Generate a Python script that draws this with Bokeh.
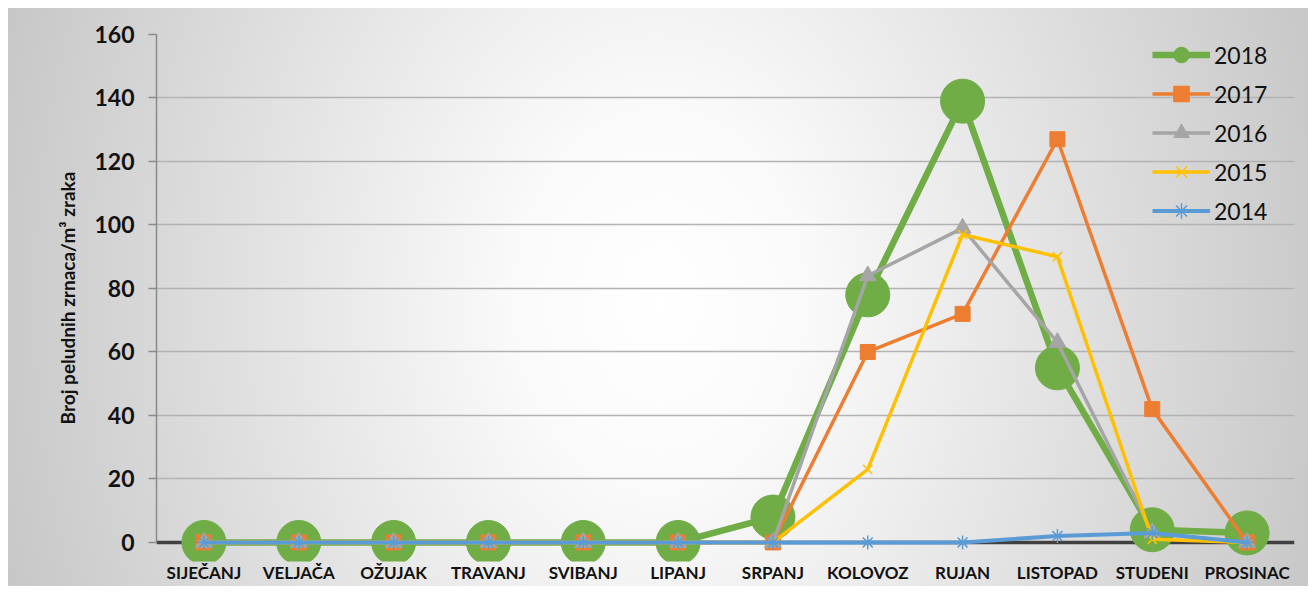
from bokeh.plotting import figure
from bokeh.models import (Range1d, FactorRange, Legend, LegendItem, Span,
                          FixedTicker)
from bokeh.embed import file_html
from bokeh.resources import INLINE

# ---- data ----
months = ["SIJEČANJ", "VELJAČA", "OŽUJAK", "TRAVANJ", "SVIBANJ", "LIPANJ",
          "SRPANJ", "KOLOVOZ", "RUJAN", "LISTOPAD", "STUDENI", "PROSINAC"]
y2018 = [0, 0, 0, 0, 0, 0, 8, 78, 139, 55, 4, 3]
y2017 = [0, 0, 0, 0, 0, 0, 0, 60, 72, 127, 42, 0]
y2016 = [0, 0, 0, 0, 0, 0, 0, 84, 99, 63, 3, 0]
y2015 = [0, 0, 0, 0, 0, 0, 0, 23, 97, 90, 1, 0]
y2014 = [0, 0, 0, 0, 0, 0, 0, 0, 0, 2, 3, 0]
years = ["2018", "2017", "2016", "2015", "2014"]
y_ticks = [0, 20, 40, 60, 80, 100, 120, 140, 160]

FONT = "Lato"
Y0, Y1 = -6, 160
FL, FT, FR, FB = 156, 34, 1294, 561   # intended frame edges (px)
FW, FH = 1308, 586

p = figure(width=FW, height=FH, x_range=FactorRange(*months, range_padding=0),
           y_range=Range1d(Y0, Y1), output_backend="svg", toolbar_location=None,
           min_border_left=FL, min_border_right=FW - FR, min_border_top=FT,
           min_border_bottom=FH - FB)
p.border_fill_color = None
p.background_fill_color = None
p.outline_line_color = None
p.styles = {
    "background": "radial-gradient(720px 950px at 652px 292px, #ffffff 0%, "
                  "#fafafa 20%, #c4c4c4 100%) 8px 8px / 1300px 578px no-repeat, "
                  "#ffffff",
}

# grid
p.xgrid.visible = False
p.ygrid.ticker = FixedTicker(ticks=y_ticks)
p.ygrid.grid_line_color = "#b2b2b2"
p.ygrid.grid_line_width = 1.5

# x axis line at zero
p.add_layout(Span(location=0, dimension="width", line_color="#404040",
                  line_width=3.5, level="underlay"))

# axes
p.yaxis.ticker = FixedTicker(ticks=y_ticks)
p.yaxis.bounds = (0, 160)
p.yaxis.axis_line_color = "#8a8a8a"
p.yaxis.axis_line_width = 1.5
p.yaxis.major_tick_line_color = "#8a8a8a"
p.yaxis.major_tick_line_width = 1.5
p.yaxis.major_tick_in = 0
p.yaxis.major_tick_out = 8
p.yaxis.minor_tick_line_color = None
p.yaxis.major_label_text_font = FONT
p.yaxis.major_label_text_font_style = "bold"
p.yaxis.major_label_text_font_size = "23px"
p.yaxis.major_label_text_color = "#111111"
p.yaxis.major_label_standoff = 14
p.yaxis.axis_label = "Broj peludnih zrnaca/m³ zraka"
p.yaxis.axis_label_text_font = FONT
p.yaxis.axis_label_text_font_style = "bold"
p.yaxis.axis_label_text_font_size = "19px"
p.yaxis.axis_label_text_color = "#111111"
p.yaxis.axis_label_standoff = 12

p.xaxis.axis_line_color = None
p.xaxis.major_tick_line_color = None
p.xaxis.minor_tick_line_color = None
p.xaxis.major_tick_out = 0
p.xaxis.major_tick_in = 0
p.xaxis.major_label_text_font = FONT
p.xaxis.major_label_text_font_style = "bold"
p.xaxis.major_label_text_font_size = "17px"
p.xaxis.major_label_text_color = "#111111"
p.xaxis.major_label_standoff = 0

# series
items = []
l = p.line(months, y2018, line_color="#70AD47", line_width=6.5)
s = p.scatter(months, y2018, marker="circle", size=44, fill_color="#70AD47",
              line_color="#70AD47")
items.append(LegendItem(label=years[0], renderers=[l, s]))

l = p.line(months, y2017, line_color="#ED7D31", line_width=3.5)
s = p.scatter(months, y2017, marker="square", size=15, fill_color="#ED7D31",
              line_color="#ED7D31")
items.append(LegendItem(label=years[1], renderers=[l, s]))

l = p.line(months, y2016, line_color="#A5A5A5", line_width=3.5)
s = p.scatter(months, y2016, marker="triangle", size=17, fill_color="#A5A5A5",
              line_color="#A5A5A5")
items.append(LegendItem(label=years[2], renderers=[l, s]))

l = p.line(months, y2015, line_color="#FFC000", line_width=3.5)
s = p.scatter(months, y2015, marker="x", size=13, line_color="#FFC000",
              line_width=1.5)
items.append(LegendItem(label=years[3], renderers=[l, s]))

l = p.line(months, y2014, line_color="#5B9BD5", line_width=4)
s = p.scatter(months, y2014, marker="asterisk", size=14, line_color="#5B9BD5",
              line_width=1.5)
items.append(LegendItem(label=years[4], renderers=[l, s]))

legend = Legend(items=items, location=(996, (FB - FT) - 1 - 195), padding=0,
                spacing=0, glyph_height=39, label_height=39, glyph_width=58,
                label_standoff=4, border_line_color=None,
                background_fill_alpha=0, label_text_font=FONT,
                label_text_font_size="23px", label_text_color="#111111")
p.add_layout(legend)

open("out.html", "w").write(file_html(p, INLINE))
